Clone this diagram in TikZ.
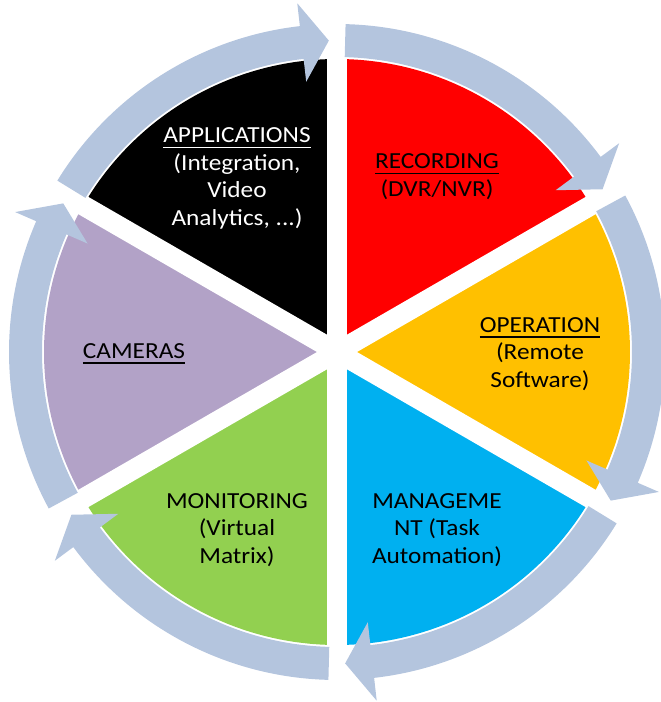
\documentclass[tikz,border=0pt]{standalone}
\usepackage{fontspec}
\setmainfont{Carlito}[FakeStretch=1.1]
\definecolor{arrowcol}{RGB}{180,197,222}
\definecolor{segred}{RGB}{255,0,0}
\definecolor{segyellow}{RGB}{255,192,0}
\definecolor{segblue}{RGB}{0,176,240}
\definecolor{seggreen}{RGB}{146,208,80}
\definecolor{seglav}{RGB}{178,162,199}
\newcommand\myul[1]{{\setbox0\hbox{#1}\rlap{\rule[-5.5pt]{\wd0}{1.6pt}}\box0}}
\begin{document}
\begin{tikzpicture}[
  lbl/.style={align=center, font=\fontsize{23}{27.5}\selectfont, inner sep=0pt, text=black},
]
\useasboundingbox (-337pt,-350pt) rectangle (324pt,352pt);
% pie sectors
\foreach \c/\col in {60/segred, 0/segyellow, -60/segblue, -120/seggreen, 180/seglav, 120/black}{
  \fill[\col] (0,0) -- (\c+30:293pt) arc[start angle=\c+30, end angle=\c-30, radius=293pt] -- cycle;
}
% gaps
\foreach \b in {90,30,-30,-90,-150,-210}{
  \draw[white, line width=20pt] (0,0) -- (\b:294pt);
}
\fill[white] (0,0) circle (12pt);
% circular arrows
\foreach \b in {90,30,-30,-90,-150,-210}{
  \pgfmathsetmacro\ts{\b-1.5}
  \pgfmathsetmacro\th{\b-53.5}
  \pgfmathsetmacro\tt{\b-58.5}
  \fill[arrowcol] (\ts:328pt) arc[start angle=\ts, end angle=\th, radius=328pt]
     -- (\th:351pt) -- (\tt:311.5pt) -- (\th:272pt) -- (\th:295pt)
     arc[start angle=\th, end angle=\ts, radius=295pt] -- cycle;
}
% labels
\node[lbl, text=white] (apps) at (-100pt,173.4pt) {\strut\myul{APPLICATIONS}\\(Integration,\\Video\\Analytics, ...)\strut};
\node[lbl] (rec) at (100pt,175pt) {\strut\myul{RECORDING}\\(DVR/NVR)\strut};
\node[lbl] (oper) at (203pt,-2pt) {\strut\myul{OPERATION}\\(Remote\\Software)\strut};
\node[lbl] (cam) at (-203pt,-0.6pt) {\strut\myul{CAMERAS}\strut};
\node[lbl] (mon) at (-100pt,-178pt) {\strut MONITORING\\(Virtual\\Matrix)\strut};
\node[lbl] (man) at (100pt,-178pt) {\strut MANAGEME\\NT (Task\\Automation)\strut};
\end{tikzpicture}
\end{document}
